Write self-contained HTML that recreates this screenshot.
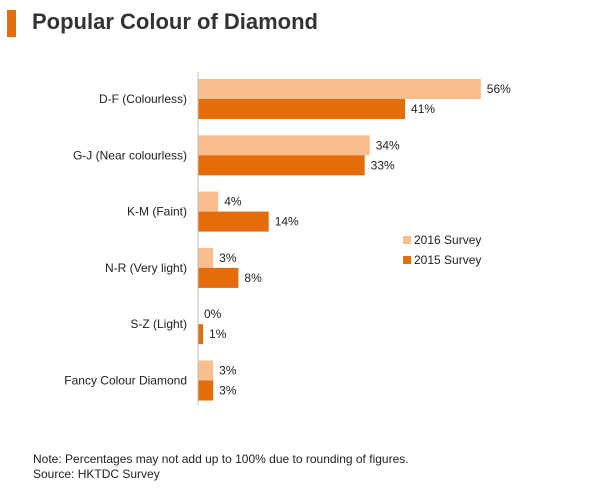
<!DOCTYPE html>
<html><head><meta charset="utf-8"><style>
body{margin:0;background:#fff;font-family:"Liberation Sans",Arial,sans-serif}
#wrap{position:relative;width:600px;height:491px;overflow:hidden}
</style></head><body>
<div id="wrap">
<div style="position:absolute;left:7px;top:10px;width:9px;height:27px;background:#E46C0A"></div>
<div style="position:absolute;left:32px;top:9px;font-size:22px;font-weight:bold;color:#333">Popular Colour of Diamond</div>
<svg id="chart" width="600" height="491" style="position:absolute;left:0;top:0"></svg>
<div style="position:absolute;left:33px;top:452px;font-size:12px;color:#222;line-height:15px">Note: Percentages may not add up to 100% due to rounding of figures.<br>Source: HKTDC Survey</div>
</div>
<script>
const categories=["D-F (Colourless)","G-J (Near colourless)","K-M (Faint)","N-R (Very light)","S-Z (Light)","Fancy Colour Diamond"];
const s2016=[56,34,4,3,0,3];
const s2015=[41,33,14,8,1,3];
const seriesNames=["2016 Survey","2015 Survey"];
const colors=["#F9BE8E","#E46C0A"];
const svg=document.getElementById('chart');
const NS="http://www.w3.org/2000/svg";
const x0=198, pxPer=5.05, top0=79, pitch=56.3, bh=20;
const xs=v=>x0+v*pxPer;
function mk(t,a){const e=document.createElementNS(NS,t);for(const k in a)e.setAttribute(k,a[k]);svg.appendChild(e);return e;}
categories.forEach((c,i)=>{
  const y=top0+i*pitch;
  [s2016,s2015].forEach((s,j)=>{
    const r=mk('rect',{x:x0,y:y+j*bh,width:xs(s[i])-x0,height:bh,fill:colors[j]});
    
    
    const t=mk('text',{x:xs(s[i])+6,y:y+j*bh+bh/2+4,'font-size':12,fill:'#222'});
    t.textContent=s[i]+'%';
    
    
  });
  const l=mk('text',{x:187,y:y+bh+4,'font-size':12,fill:'#222','text-anchor':'end'});
  l.textContent=c;
  
  
});
const ax=mk('line',{x1:x0,y1:72,x2:x0,y2:405,stroke:'#BFBFBF','stroke-width':1});


seriesNames.forEach((n,j)=>{
  const r=mk('rect',{x:403,y:236+j*20,width:8,height:8,fill:colors[j]});
  
  
  const t=mk('text',{x:414,y:244+j*20,'font-size':12,fill:'#222'});
  t.textContent=n;
  
  
});
</script>
</body></html>
